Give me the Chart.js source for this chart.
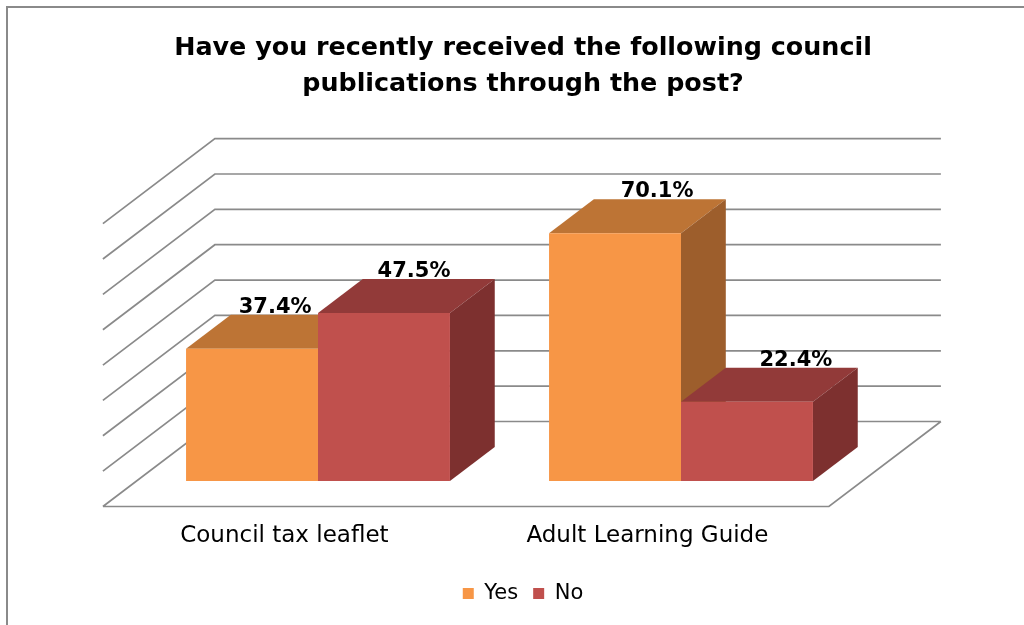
<!DOCTYPE html>
<html lang="en">

<head>
    <meta charset="UTF-8">
    <title>Council publications received by post</title>
    <script src="https://cdn.jsdelivr.net/npm/chart.js"></script>
    <style>
        body {
            margin: 0;
            background: #fff;
        }

        .chart-container {
            position: relative;
            width: 1024px;
            height: 625px;
        }
    </style>
</head>

<body>
    <div class="chart-container">
        <canvas id="postChart"></canvas>
    </div>

    <script>
        // Survey results (% of respondents)
        const categories = ['Council tax leaflet', 'Adult Learning Guide'];
        const yesValues = [37.4, 70.1];
        const noValues = [47.5, 22.4];
        // Gridline levels on the back and side walls
        const gridSteps = [0, 10, 20, 30, 40, 50, 60, 70, 80];

        // 3D look: full floor depth as a screen offset, and where the bars sit in it
        const DEPTH_X = 112;
        const DEPTH_Y = -85;
        const FRONT_GAP = 0.3;   // floor in front of the bars
        const BAR_DEPTH = 0.4;   // bar thickness
        const BACK_GAP = 1 - FRONT_GAP; // from bar fronts to the back wall

        const faceColors = [
            { top: '#BD7435', side: '#9D5E2C' },
            { top: '#923A39', side: '#7D302F' }
        ];

        const FONT = 'DejaVu Sans';

        function shift(x, y, t) {
            return [x + DEPTH_X * t, y + DEPTH_Y * t];
        }

        function poly(ctx, pts, fill) {
            ctx.beginPath();
            ctx.moveTo(pts[0][0], pts[0][1]);
            for (let i = 1; i < pts.length; i++) ctx.lineTo(pts[i][0], pts[i][1]);
            ctx.closePath();
            ctx.fillStyle = fill;
            ctx.fill();
        }

        // hidden axis used only to reserve room beside the plot
        function spacer(width) {
            return {
                display: true,
                grid: { display: false, drawTicks: false },
                border: { display: false },
                ticks: { display: false },
                afterFit(scale) { scale.width = width; }
            };
        }

        const frame = {
            id: 'frame',
            beforeDraw(chart) {
                const ctx = chart.ctx;
                ctx.save();
                ctx.fillStyle = '#fff';
                ctx.fillRect(0, 0, chart.width, chart.height);
                ctx.strokeStyle = '#8a8a8a';
                ctx.lineWidth = 2;
                ctx.strokeRect(7, 7, chart.width + 20, chart.height + 20);
                ctx.restore();
            }
        };

        const box3d = {
            id: 'box3d',
            beforeDatasetsDraw(chart) {
                const { ctx, chartArea: a, scales: { y } } = chart;
                ctx.save();
                ctx.strokeStyle = '#8a8a8a';
                ctx.lineWidth = 1.7;

                // side wall diagonals + back wall gridlines
                ctx.beginPath();
                gridSteps.forEach(v => {
                    const py = y.getPixelForValue(v);
                    const fl = shift(a.left, py, -FRONT_GAP);
                    const bl = shift(a.left, py, BACK_GAP);
                    const br = shift(a.right, py, BACK_GAP);
                    ctx.moveTo(fl[0], fl[1]);
                    ctx.lineTo(bl[0], bl[1]);
                    ctx.lineTo(br[0], br[1]);
                });
                // floor front and right edges
                const y0 = y.getPixelForValue(0);
                const f1 = shift(a.left, y0, -FRONT_GAP);
                const f2 = shift(a.right, y0, -FRONT_GAP);
                const f3 = shift(a.right, y0, BACK_GAP);
                ctx.moveTo(f1[0], f1[1]);
                ctx.lineTo(f2[0], f2[1]);
                ctx.lineTo(f3[0], f3[1]);
                ctx.stroke();

                // top and side faces, left to right so nearer bars cover the ones behind
                const bars = [];
                chart.data.datasets.forEach((ds, di) => {
                    chart.getDatasetMeta(di).data.forEach(el => {
                        const p = el.getProps(['x', 'y', 'base', 'width'], true);
                        bars.push({ ...p, colors: faceColors[di] });
                    });
                });
                bars.sort((m, n) => m.x - n.x);
                bars.forEach(b => {
                    const l = b.x - b.width / 2;
                    const r = b.x + b.width / 2;
                    poly(ctx, [[l, b.y], [r, b.y], shift(r, b.y, BAR_DEPTH), shift(l, b.y, BAR_DEPTH)], b.colors.top);
                    poly(ctx, [[r, b.y], [r, b.base], shift(r, b.base, BAR_DEPTH), shift(r, b.y, BAR_DEPTH)], b.colors.side);
                });
                ctx.restore();
            },
            afterDatasetsDraw(chart) {
                const { ctx, chartArea: a } = chart;
                // labels spread outwards a little, like a perspective view
                const focus = a.left + (a.right - a.left) * 0.17;
                ctx.save();
                ctx.font = 'bold 21px "' + FONT + '"';
                ctx.fillStyle = '#000';
                ctx.textAlign = 'center';
                ctx.textBaseline = 'alphabetic';
                chart.data.datasets.forEach((ds, di) => {
                    chart.getDatasetMeta(di).data.forEach((el, i) => {
                        const p = el.getProps(['x', 'y'], true);
                        const mid = shift(p.x, p.y, BAR_DEPTH / 2);
                        const lx = mid[0] + (mid[0] - focus) * 0.052;
                        const ly = p.y + DEPTH_Y * BAR_DEPTH - 2;
                        ctx.fillText(ds.data[i].toFixed(1) + '%', lx, ly);
                    });
                });
                ctx.restore();
            }
        };

        const ctx = document.getElementById('postChart').getContext('2d');
        new Chart(ctx, {
            type: 'bar',
            data: {
                labels: categories,
                datasets: [{
                    label: 'Yes',
                    data: yesValues,
                    backgroundColor: '#F79646',
                    borderWidth: 0
                }, {
                    label: 'No',
                    data: noValues,
                    backgroundColor: '#C0504D',
                    borderWidth: 0
                }]
            },
            options: {
                responsive: true,
                maintainAspectRatio: false,
                animation: false,
                layout: {
                    padding: { left: 22, right: 0, top: 0, bottom: 11 }
                },
                datasets: {
                    bar: { categoryPercentage: 0.727, barPercentage: 1.0 }
                },
                plugins: {
                    title: {
                        display: true,
                        text: ['Have you recently received the following council',
                            'publications through the post?'],
                        color: '#000',
                        font: { family: FONT, size: 25.4, weight: 'bold', lineHeight: 1.42 },
                        padding: { top: 30, bottom: 96 }
                    },
                    legend: {
                        position: 'bottom',
                        labels: {
                            color: '#000',
                            font: { family: FONT, size: 21 },
                            boxWidth: 11,
                            boxHeight: 11,
                            padding: 15
                        }
                    },
                    tooltip: { enabled: false }
                },
                scales: {
                    x: {
                        grid: { display: false, drawTicks: false },
                        border: { display: false },
                        ticks: {
                            color: '#000',
                            font: { family: FONT, size: 23 },
                            labelOffset: -DEPTH_X * FRONT_GAP,
                            padding: 41
                        },
                        afterFit(scale) { scale.height = 87; }
                    },
                    y: {
                        ...spacer(114.5),
                        position: 'left',
                        min: 0,
                        max: 80,
                        ticks: { display: false, stepSize: 10 }
                    },
                    yRight: {
                        ...spacer(161.5),
                        type: 'linear',
                        position: 'right'
                    }
                }
            },
            plugins: [frame, box3d]
        });
    </script>
</body>

</html>
